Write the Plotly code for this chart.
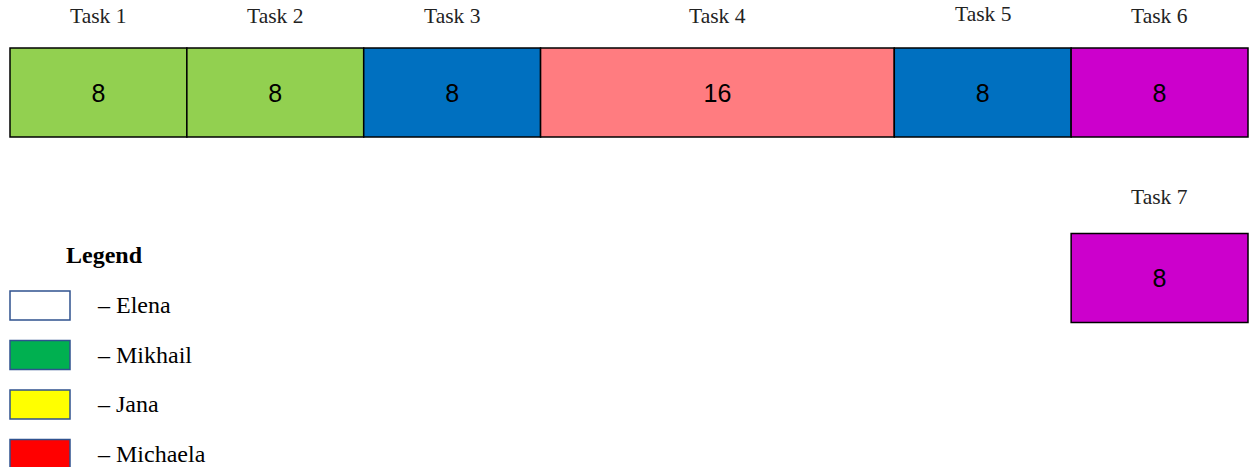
import plotly.graph_objects as go

# ---- data ----
tasks = ["Task 1", "Task 2", "Task 3", "Task 4", "Task 5", "Task 6", "Task 7"]
durations = [8, 8, 8, 16, 8, 8, 8]
starts = [0, 8, 16, 24, 40, 48, 48]
rows = [0, 0, 0, 0, 0, 0, 1]
task_colors = ["#92D050", "#92D050", "#0070C0", "#FF7C80", "#0070C0", "#CC00CC", "#CC00CC"]
label_shift = [77, 77, 77, 77, 79, 77, 81]

legend_names = ["Elena", "Mikhail", "Jana", "Michaela"]
legend_colors = ["#FFFFFF", "#00B050", "#FFFF00", "#FF0000"]

W, H = 1249, 467
px_per_hour = 1238 / 56
x0 = -10 / px_per_hour
x1 = (W - 10) / px_per_hour
row_px = 185.5
y_top = -92.5 / row_px
y_bot = (H - 92.5) / row_px

fig = go.Figure()
fig.add_trace(go.Bar(
    orientation="h",
    y=rows,
    x=durations,
    base=starts,
    width=89 / row_px,
    marker=dict(color=task_colors, line=dict(color="#000000", width=1.5)),
    text=[str(d) for d in durations],
    textposition="inside",
    insidetextanchor="middle",
    textfont=dict(family="Liberation Sans, Arial", size=25, color="#000000"),
    hoverinfo="skip",
    showlegend=False,
))

annotations = []
for t, s, d, r, sh in zip(tasks, starts, durations, rows, label_shift):
    annotations.append(dict(
        x=s + d / 2, y=r, xref="x", yref="y", text=t, showarrow=False,
        yshift=sh, font=dict(family="Liberation Serif, Times New Roman", size=21.5, color="#222222"),
    ))

# custom legend (paper coordinates, pixel based)
shapes = []
annotations.append(dict(
    x=64 / W, y=1 - 255 / H, xref="paper", yref="paper", xanchor="left", yanchor="middle",
    text="<b>Legend</b>", showarrow=False,
    font=dict(family="Liberation Serif, Times New Roman", size=24, color="#000000"),
))
for i, (name, col) in enumerate(zip(legend_names, legend_colors)):
    top = 291 + i * 49.5
    shapes.append(dict(
        type="rect", xref="paper", yref="paper",
        x0=10 / W, x1=70 / W, y0=1 - (top + 29) / H, y1=1 - top / H,
        fillcolor=col, line=dict(color="#2F528F", width=1.5),
    ))
    annotations.append(dict(
        x=95 / W, y=1 - (top + 14) / H, xref="paper", yref="paper",
        xanchor="left", yanchor="middle", text="– " + name, showarrow=False,
        font=dict(family="Liberation Serif, Times New Roman", size=24, color="#000000"),
    ))

fig.update_layout(
    width=W, height=H,
    margin=dict(l=0, r=0, t=0, b=0),
    paper_bgcolor="white", plot_bgcolor="white",
    xaxis=dict(range=[x0, x1], visible=False, fixedrange=True),
    yaxis=dict(range=[y_bot, y_top], visible=False, fixedrange=True),
    annotations=annotations,
    shapes=shapes,
    barmode="overlay",
)

fig.write_html("out.html")
